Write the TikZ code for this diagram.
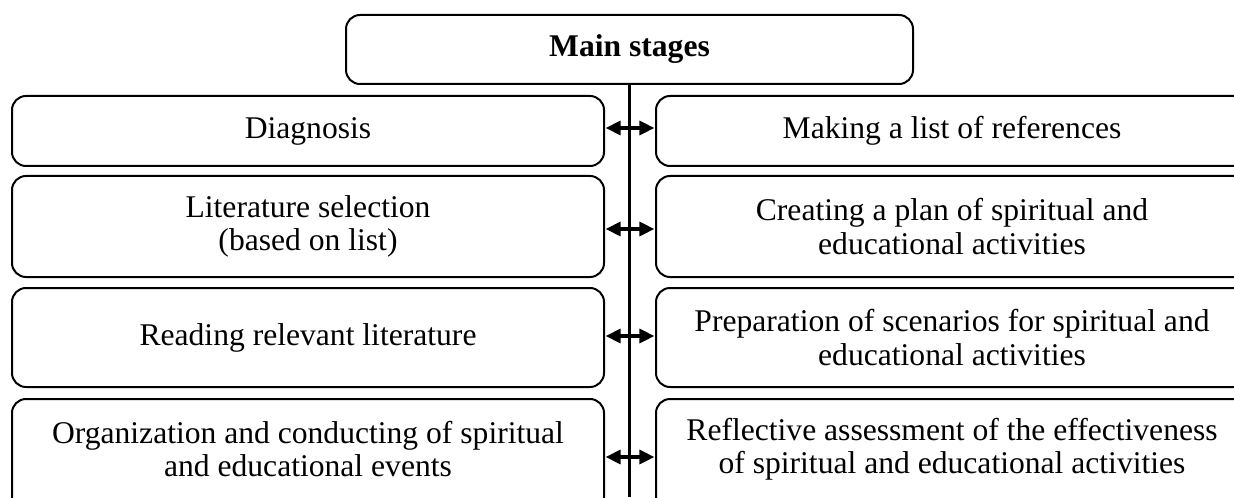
\documentclass[tikz,border=0pt]{standalone}
\usepackage{fontspec}
\setmainfont{Liberation Serif}
\usetikzlibrary{arrows.meta}
\begin{document}
\begin{tikzpicture}[x=0.5pt,y=-0.5pt,
  every node/.style={font=\fontsize{15.8pt}{16.6pt}\selectfont},
  stagebox/.style={draw=black,line width=1pt,rounded corners=7pt,align=center,inner sep=0pt,minimum width=296pt},
  dbl/.style={line width=1.6pt,{Triangle[length=7.5pt,width=7pt]}-{Triangle[length=7.5pt,width=7pt]},shorten <=0.3pt,shorten >=0.3pt},
  spine/.style={line width=1.6pt}]
\useasboundingbox (0,0) rectangle (1234,497);
\node[stagebox,minimum width=283.5pt,minimum height=34.5pt] (top) at (629.5,49.5) {\textbf{Main stages}};
% left column
\node[stagebox,minimum height=35pt] (L1) at (308,131) {Diagnosis};
\node[stagebox,minimum height=50.5pt] (L2) at (308,226.5) {Literature selection\\(based on list)};
\node[stagebox,minimum height=49.5pt] (L3) at (308,337.5) {Reading relevant literature};
\node[stagebox,minimum height=57pt] (L4) at (308,456) {};
\node[align=center] (L4t) at (308,449) {Organization and conducting of spiritual\\and educational events};
% right column
\node[stagebox,minimum height=35pt] (R1) at (952,131) {Making a list of references};
\node[stagebox,minimum height=50.5pt] (R2) at (952,226.5) {Creating a plan of spiritual and\\educational activities};
\node[stagebox,minimum height=49.5pt] (R3) at (952,337.5) {Preparation of scenarios for spiritual and\\educational activities};
\node[stagebox,minimum height=57pt] (R4) at (952,456) {};
\node[align=center] (R4t) at (952,449) {Reflective assessment of the effectiveness\\of spiritual and educational activities};
% spine
\coordinate (bot) at (629.5,497);
\draw[spine] (top.south) -- (bot);
% arrows
\draw[dbl] ([yshift=1.5pt]L1.east) -- ([yshift=1.5pt]R1.west);
\draw[dbl] ([yshift=-1.25pt]L2.east) -- ([yshift=-1.25pt]R2.west);
\draw[dbl] ([yshift=0.75pt]L3.east) -- ([yshift=0.75pt]R3.west);
\draw[dbl] ([yshift=-0.5pt]L4.east) -- ([yshift=-0.5pt]R4.west);
\end{tikzpicture}
\end{document}
